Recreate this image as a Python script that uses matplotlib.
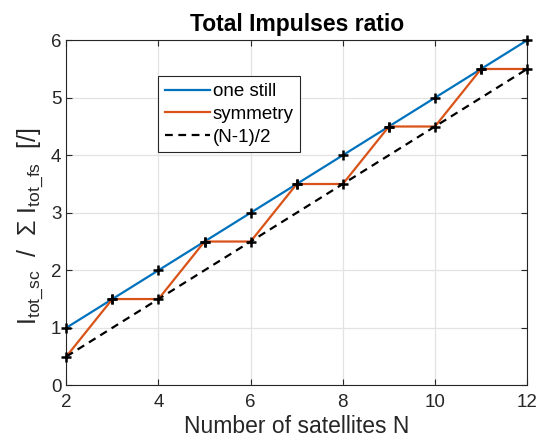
import numpy as np
from matplotlib import pyplot as plt

plt.rcParams['font.family'] = ['Liberation Sans', 'DejaVu Sans']
plt.rcParams['mathtext.fontset'] = 'custom'
plt.rcParams['mathtext.rm'] = 'Liberation Sans'
plt.rcParams['mathtext.it'] = 'Liberation Sans'

# data
n_sat = [2, 3, 4, 5, 6, 7, 8, 9, 10, 11, 12]
one_still = [1.0, 1.5, 2.0, 2.5, 3.0, 3.5, 4.0, 4.5, 5.0, 5.5, 6.0]
symmetry = [0.5, 1.5, 1.5, 2.5, 2.5, 3.5, 3.5, 4.5, 4.5, 5.5, 5.5]
half_n_minus_1 = [0.5, 1.0, 1.5, 2.0, 2.5, 3.0, 3.5, 4.0, 4.5, 5.0, 5.5]

fig, ax = plt.subplots(figsize=(5.39, 4.47), dpi=100)
plt.subplots_adjust(left=0.123, right=0.978, top=0.91, bottom=0.138)

ax.plot(n_sat, one_still, color='#0072BD', linewidth=1.6, label='one still')
ax.plot(n_sat, symmetry, color='#D95319', linewidth=1.6, label='symmetry')
ax.plot(n_sat, half_n_minus_1, color='black', linestyle=(0, (3.5, 2.5)), linewidth=1.6, label='(N-1)/2')

# black plus markers on the two main series
for ys in (one_still, symmetry):
    ax.plot(n_sat, ys, linestyle='none', marker='+', color='black',
            markersize=7.5, markeredgewidth=1.8, clip_on=False, zorder=5)

ax.set_xlim(2, 12)
ax.set_ylim(0, 6)
ax.set_xticks(np.arange(2, 13, 2))
ax.set_yticks(np.arange(0, 7, 1))
ax.grid(True, color='#e3e3e3', linewidth=0.9)
ax.set_axisbelow(True)
for s in ax.spines.values():
    s.set_color('#262626')
    s.set_linewidth(0.8)
ax.tick_params(labelsize=13.5, colors='#262626', direction='in', length=4, width=0.8, top=True, right=True)
ax.tick_params(axis='x', pad=6)

ax.set_title('Total Impulses ratio', fontsize=16.5, fontweight='bold', pad=7)
ax.set_xlabel('Number of satellites N', fontsize=16.5, color='#262626', labelpad=3)
ylab = ax.set_ylabel(r'$\mathregular{I_{tot\_sc}}$  /  $\Sigma$ $\mathregular{I_{tot\_fs}}$  [/]',
                     fontsize=18, color='#262626', labelpad=4)
ylab.set_y(0.46)

leg = ax.legend(loc='upper left', bbox_to_anchor=(0.2, 0.895), fontsize=13.5,
                frameon=True, fancybox=False, edgecolor='#262626', framealpha=1,
                handlelength=2.4, handletextpad=0.15, borderpad=0.35, labelspacing=0.3,
                borderaxespad=0)
leg.get_frame().set_linewidth(0.8)

plt.savefig('out.png', dpi=100)
